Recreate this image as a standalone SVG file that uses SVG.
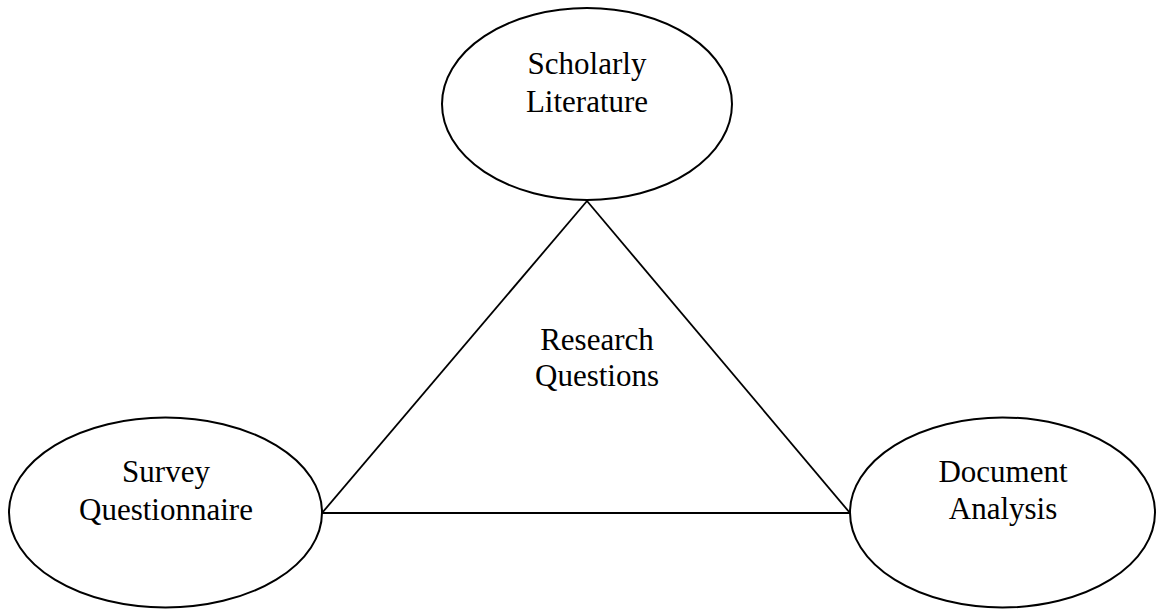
<svg xmlns="http://www.w3.org/2000/svg" width="1156" height="609" viewBox="0 0 1156 609">
<style>
.n{fill:#fff;stroke:#000;stroke-width:2}
.c{fill:none;stroke:#000;stroke-width:1.8}
text{font-family:"Liberation Serif","Times New Roman",serif;font-size:31px;fill:#000;text-anchor:middle}
</style>
<rect width="1156" height="609" fill="#fff"/>
<g id="connectors">
<line class="c" x1="587" y1="201" x2="322" y2="513"/>
<line class="c" x1="587" y1="201" x2="850" y2="513"/>
<line class="c" x1="322" y1="513" x2="850" y2="513"/>
</g>
<g id="scholarly">
<ellipse class="n" cx="587" cy="104" rx="145" ry="96"/>
<text x="587" y="74">Scholarly</text>
<text x="587" y="112">Literature</text>
</g>
<g id="survey">
<ellipse class="n" cx="165.5" cy="512.5" rx="156.5" ry="95"/>
<text x="166" y="482">Survey</text>
<text x="166" y="520">Questionnaire</text>
</g>
<g id="document">
<ellipse class="n" cx="1002.5" cy="512.5" rx="152.5" ry="95"/>
<text x="1003" y="482">Document</text>
<text x="1003" y="519">Analysis</text>
</g>
<g id="research">
<text x="597" y="350">Research</text>
<text x="597" y="386">Questions</text>
</g>
</svg>
